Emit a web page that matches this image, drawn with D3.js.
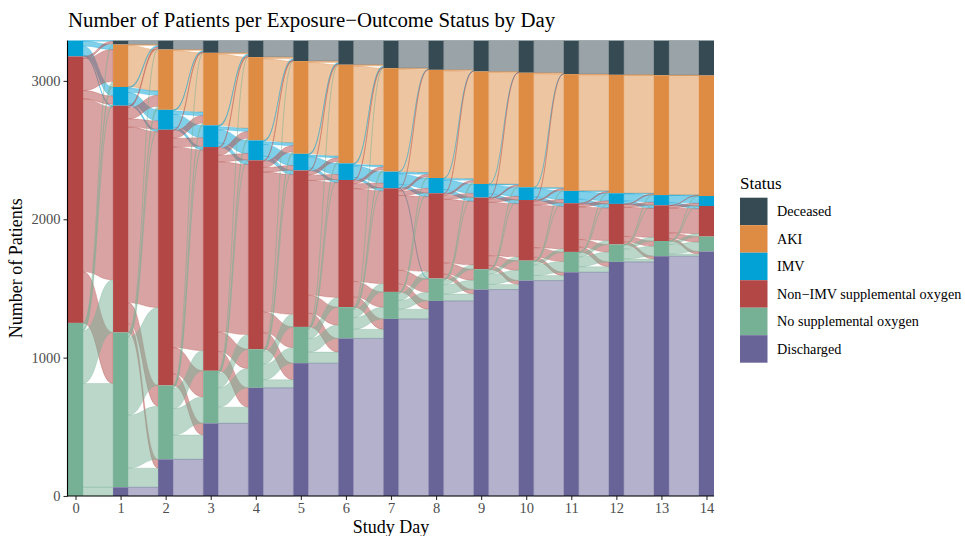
<!DOCTYPE html>
<html lang="en">
<head>
    <meta charset="UTF-8">
    <title>Number of Patients per Exposure-Outcome Status by Day</title>
    <script src="https://cdnjs.cloudflare.com/ajax/libs/d3/7.8.5/d3.js"></script>
    <style>
        body {
            margin: 0;
            background: #fff;
        }
        svg {
            display: block;
            font-family: "Liberation Serif", "DejaVu Serif", serif;
        }
    </style>
</head>
<body>
    <svg id="chart" width="965" height="536"></svg>

    <script>
        // strata, top to bottom as in the legend
        const statusKeys = ["D", "A", "I", "N", "S", "H"];
        const statusLabels = ["Deceased", "AKI", "IMV", "Non\u2212IMV supplemental oxygen", "No supplemental oxygen", "Discharged"];
        const statusColors = ["#354a52", "#de8c43", "#02a2d6", "#b24746", "#76b095", "#686497"];

        const days = [0, 1, 2, 3, 4, 5, 6, 7, 8, 9, 10, 11, 12, 13, 14];

        // patients per status and day
        const deceased   = [0, 29, 65, 89, 120, 149, 175, 200, 212, 224, 233, 243, 248, 251, 253];
        const aki        = [0, 307, 436, 524, 602, 670, 713, 748, 782, 813, 828, 844, 856, 866, 871];
        const imv        = [115, 135, 144, 157, 144, 120, 120, 120, 110, 98, 92, 89, 77, 74, 72];
        const nonImv     = [1926, 1639, 1848, 1617, 1365, 1131, 919, 749, 616, 518, 438, 352, 293, 258, 221];
        const noSupp     = [1251, 1119, 534, 380, 279, 262, 226, 195, 162, 147, 144, 147, 126, 110, 108];
        const discharged = [0, 63, 265, 525, 782, 960, 1139, 1280, 1410, 1492, 1557, 1617, 1692, 1733, 1767];

        // transitions from day i to day i+1: [from, to, patients]
        const transitions = [
            [["I","D",5],["I","A",36],["I","I",65],["I","N",9],
             ["N","D",16],["N","A",231],["N","I",60],["N","N",1250],["N","S",369],
             ["S","D",8],["S","A",40],["S","I",10],["S","N",380],["S","S",750],["S","H",63]],
            [["D","D",29],["A","A",300],["A","D",7],
             ["I","D",10],["I","A",30],["I","I",80],["I","N",15],
             ["N","D",15],["N","A",80],["N","I",60],["N","N",1270],["N","S",150],["N","H",64],
             ["S","D",4],["S","A",26],["S","I",4],["S","N",563],["S","S",384],["S","H",138],
             ["H","H",63]],
            [["D","D",65],["A","A",428],["A","D",8],
             ["I","D",8],["I","A",25],["I","I",90],["I","N",21],
             ["N","D",7],["N","A",55],["N","I",62],["N","N",1450],["N","S",190],["N","H",84],
             ["S","D",1],["S","A",16],["S","I",5],["S","N",146],["S","S",190],["S","H",176],
             ["H","H",265]],
            [["D","D",89],["A","A",515],["A","D",9],
             ["I","D",10],["I","A",22],["I","I",95],["I","N",30],
             ["N","D",10],["N","A",50],["N","I",47],["N","N",1230],["N","S",140],["N","H",140],
             ["S","D",2],["S","A",15],["S","I",2],["S","N",105],["S","S",139],["S","H",117],
             ["H","H",525]],
            [["D","D",120],["A","A",590],["A","D",12],
             ["I","D",9],["I","A",20],["I","I",85],["I","N",30],
             ["N","D",7],["N","A",45],["N","I",33],["N","N",1010],["N","S",150],["N","H",120],
             ["S","D",1],["S","A",15],["S","I",2],["S","N",91],["S","S",112],["S","H",58],
             ["H","H",782]],
            [["D","D",149],["A","A",660],["A","D",10],
             ["I","D",9],["I","A",12],["I","I",80],["I","N",19],
             ["N","D",6],["N","A",28],["N","I",38],["N","N",830],["N","S",130],["N","H",99],
             ["S","D",1],["S","A",13],["S","I",2],["S","N",70],["S","S",96],["S","H",80],
             ["H","H",960]],
            [["D","D",175],["A","A",703],["A","D",10],
             ["I","D",9],["I","A",10],["I","I",82],["I","N",19],
             ["N","D",5],["N","A",22],["N","I",36],["N","N",670],["N","S",111],["N","H",75],
             ["S","D",1],["S","A",13],["S","I",2],["S","N",60],["S","S",84],["S","H",66],
             ["H","H",1139]],
            [["D","D",200],["A","A",742],["A","D",6],
             ["I","D",4],["I","A",12],["I","I",75],["I","N",25],["I","S",4],
             ["N","D",2],["N","A",18],["N","I",33],["N","N",540],["N","S",96],["N","H",60],
             ["S","A",10],["S","I",2],["S","N",51],["S","S",62],["S","H",70],
             ["H","H",1280]],
            [["D","D",212],["A","A",775],["A","D",7],
             ["I","D",3],["I","A",12],["I","I",68],["I","N",27],
             ["N","D",2],["N","A",14],["N","I",28],["N","N",460],["N","S",80],["N","H",32],
             ["S","A",12],["S","I",2],["S","N",31],["S","S",67],["S","H",50],
             ["H","H",1410]],
            [["D","D",224],["A","A",806],["A","D",7],
             ["I","D",1],["I","A",6],["I","I",65],["I","N",26],
             ["N","D",1],["N","A",9],["N","I",25],["N","N",385],["N","S",70],["N","H",28],
             ["S","A",7],["S","I",2],["S","N",27],["S","S",74],["S","H",37],
             ["H","H",1492]],
            [["D","D",233],["A","A",821],["A","D",7],
             ["I","D",2],["I","A",6],["I","I",62],["I","N",22],
             ["N","D",1],["N","A",11],["N","I",25],["N","N",307],["N","S",70],["N","H",24],
             ["S","A",6],["S","I",2],["S","N",23],["S","S",77],["S","H",36],
             ["H","H",1557]],
            [["D","D",243],["A","A",839],["A","D",5],
             ["I","A",5],["I","I",55],["I","N",29],
             ["N","A",7],["N","I",20],["N","N",235],["N","S",55],["N","H",35],
             ["S","A",5],["S","I",2],["S","N",29],["S","S",71],["S","H",40],
             ["H","H",1617]],
            [["D","D",248],["A","A",853],["A","D",3],
             ["I","A",4],["I","I",52],["I","N",21],
             ["N","A",5],["N","I",20],["N","N",210],["N","S",38],["N","H",20],
             ["S","A",4],["S","I",2],["S","N",27],["S","S",72],["S","H",21],
             ["H","H",1692]],
            [["D","D",251],["A","A",864],["A","D",2],
             ["I","A",2],["I","I",52],["I","N",20],
             ["N","A",2],["N","I",18],["N","N",180],["N","S",40],["N","H",18],
             ["S","A",3],["S","I",2],["S","N",21],["S","S",68],["S","H",16],
             ["H","H",1733]]
        ];

        const yTicks = [0, 1000, 2000, 3000];
        const totalPatients = 3292;

        const svg = d3.select("#chart");
        const margin = { left: 68, right: 251, top: 40.5, bottom: 40 };
        const plotRight = 965 - margin.right;
        const plotBottom = 536 - margin.bottom;

        const x = d3.scaleLinear()
            .domain([-1 / 6, 14 + 1 / 6])
            .range([margin.left, plotRight]);
        const y = d3.scaleLinear()
            .domain([0, totalPatients])
            .range([plotBottom, margin.top]);
        const halfW = x(1 / 6) - x(0);

        const color = d3.scaleOrdinal().domain(statusKeys).range(statusColors);
        const idx = k => statusKeys.indexOf(k);

        const countsByStatus = { D: deceased, A: aki, I: imv, N: nonImv, S: noSupp, H: discharged };

        // top offset (in patients, counted from the top) of each stratum on each day
        function stratumTop(day) {
            const tops = {};
            let acc = 0;
            statusKeys.forEach(k => {
                tops[k] = acc;
                acc += countsByStatus[k][day];
            });
            return tops;
        }

        const strata = [];
        days.forEach(d => {
            const tops = stratumTop(d);
            statusKeys.forEach(k => {
                const n = countsByStatus[k][d];
                if (n > 0) strata.push({ day: d, key: k, top: tops[k], n: n });
            });
        });

        // lay out flows: outgoing sorted by target, incoming sorted by source
        const ribbons = [];
        transitions.forEach((list, d) => {
            const topsL = stratumTop(d);
            const topsR = stratumTop(d + 1);
            const items = list.map(([from, to, n]) => ({ day: d, from, to, n }));
            const outUsed = {}, inUsed = {};
            items.slice().sort((a, b) => idx(a.from) - idx(b.from) || idx(a.to) - idx(b.to))
                .forEach(f => {
                    const u = outUsed[f.from] || 0;
                    f.y0 = topsL[f.from] + u;
                    outUsed[f.from] = u + f.n;
                });
            items.slice().sort((a, b) => idx(a.to) - idx(b.to) || idx(a.from) - idx(b.from))
                .forEach(f => {
                    const u = inUsed[f.to] || 0;
                    f.y1 = topsR[f.to] + u;
                    inUsed[f.to] = u + f.n;
                });
            items.forEach(f => ribbons.push(f));
        });

        function ribbonPath(f) {
            const x0 = x(f.day) + halfW, x1 = x(f.day + 1) - halfW;
            const xm = (x0 + x1) / 2;
            const a0 = y(totalPatients - f.y0), b0 = y(totalPatients - f.y0 - f.n);
            const a1 = y(totalPatients - f.y1), b1 = y(totalPatients - f.y1 - f.n);
            const p = d3.path();
            p.moveTo(x0, a0);
            p.bezierCurveTo(xm, a0, xm, a1, x1, a1);
            p.lineTo(x1, b1);
            p.bezierCurveTo(xm, b1, xm, b0, x0, b0);
            p.closePath();
            return p.toString();
        }

        // flows
        svg.append("g")
            .selectAll("path")
            .data(ribbons)
            .join("path")
            .attr("d", ribbonPath)
            .attr("fill", d => color(d.from))
            .attr("fill-opacity", 0.5)
            .attr("stroke", d => color(d.from))
            .attr("stroke-opacity", 0.4)
            .attr("stroke-width", 0.7);

        // strata
        svg.append("g")
            .selectAll("rect")
            .data(strata)
            .join("rect")
            .attr("x", d => x(d.day) - halfW)
            .attr("width", halfW * 2)
            .attr("y", d => y(totalPatients - d.top))
            .attr("height", d => y(totalPatients - d.top - d.n) - y(totalPatients - d.top))
            .attr("fill", d => color(d.key));

        // axes
        const xAxis = d3.axisBottom(x).tickValues(days).tickFormat(d3.format("d")).tickSize(4).tickPadding(3);
        const gx = svg.append("g")
            .attr("transform", `translate(0,${plotBottom})`)
            .call(xAxis);
        const yAxis = d3.axisLeft(y).tickValues(yTicks).tickSize(4).tickPadding(3).tickFormat(d3.format("d"));
        const gy = svg.append("g")
            .attr("transform", `translate(${margin.left - 0.5},0)`)
            .call(yAxis);

        [gx, gy].forEach(g => {
            g.select(".domain").remove();
            g.selectAll(".tick line").attr("stroke", "#333").attr("stroke-width", 1.1);
            g.selectAll(".tick text")
                .attr("fill", "#4d4d4d")
                .style("font-family", "Liberation Serif")
                .style("font-size", "14.5px");
        });

        svg.append("line")
            .attr("x1", margin.left - 0.5).attr("x2", margin.left - 0.5)
            .attr("y1", margin.top).attr("y2", plotBottom + 0.5)
            .attr("stroke", "#000").attr("stroke-width", 1.1);
        svg.append("line")
            .attr("x1", margin.left - 0.5).attr("x2", plotRight)
            .attr("y1", plotBottom).attr("y2", plotBottom)
            .attr("stroke", "#000").attr("stroke-width", 1.1);

        // titles
        svg.append("text")
            .attr("x", 68).attr("y", 27)
            .style("font-size", "20.8px")
            .text("Number of Patients per Exposure\u2212Outcome Status by Day");

        svg.append("text")
            .attr("x", (margin.left + plotRight) / 2).attr("y", 533)
            .attr("text-anchor", "middle")
            .style("font-size", "18px")
            .text("Study Day");

        svg.append("text")
            .attr("transform", `translate(22,${(margin.top + plotBottom) / 2}) rotate(-90)`)
            .attr("text-anchor", "middle")
            .style("font-size", "18px")
            .text("Number of Patients");

        // legend
        const legend = svg.append("g").attr("transform", "translate(740,176)");
        legend.append("text")
            .attr("x", 0).attr("y", 12.5)
            .style("font-size", "17px")
            .text("Status");
        const keySize = 27.5;
        const rows = legend.selectAll("g.row")
            .data(statusKeys)
            .join("g")
            .attr("class", "row")
            .attr("transform", (d, i) => `translate(0,${21.7 + i * keySize})`);
        rows.append("rect")
            .attr("width", keySize).attr("height", keySize)
            .attr("fill", d => color(d));
        rows.append("text")
            .attr("x", 37).attr("y", keySize / 2 + 4.8)
            .style("font-size", "14.2px")
            .text((d, i) => statusLabels[i]);
    </script>
</body>
</html>
